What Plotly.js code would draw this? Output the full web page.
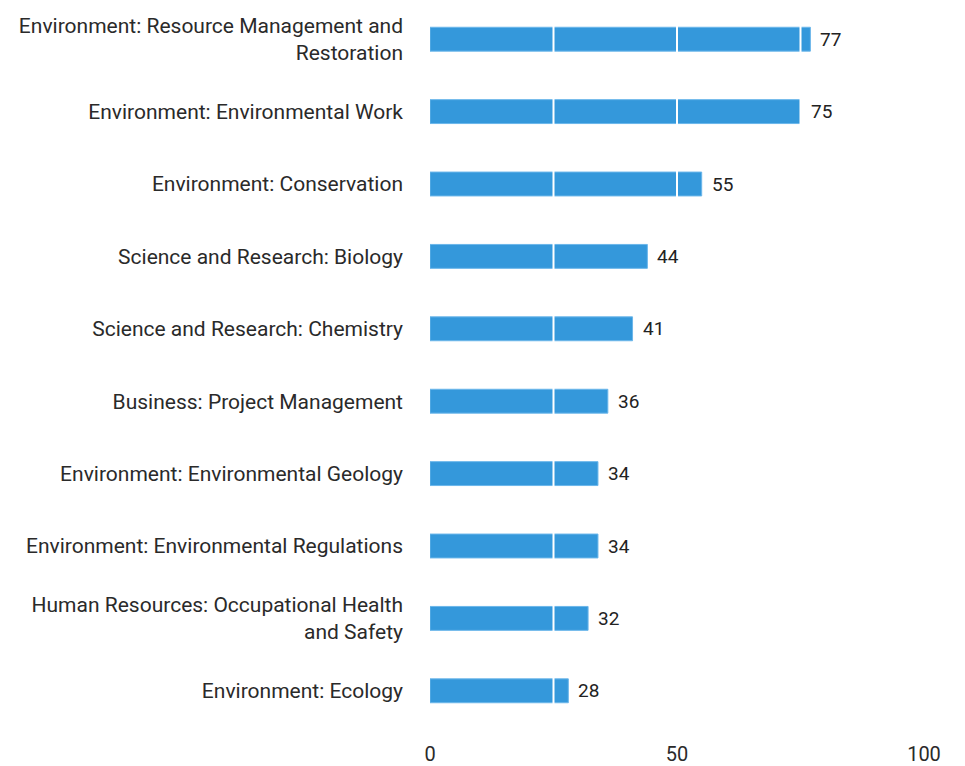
<!DOCTYPE html>
<html>
<head>
<meta charset="utf-8">
<script src="https://cdn.plot.ly/plotly-3.0.1.min.js"></script>
<style>html,body{margin:0;padding:0;background:#fff;}#chart{width:965px;height:766px;}</style>
</head>
<body>
<div id="chart"></div>
<script>
const categories = [
  "Environment: Resource Management and<br>Restoration",
  "Environment: Environmental Work",
  "Environment: Conservation",
  "Science and Research: Biology",
  "Science and Research: Chemistry",
  "Business: Project Management",
  "Environment: Environmental Geology",
  "Environment: Environmental Regulations",
  "Human Resources: Occupational Health<br>and Safety",
  "Environment: Ecology"
];
const values = [77, 75, 55, 44, 41, 36, 34, 34, 32, 28];
const xTicks = [0, 50, 100];
const gridVals = [25, 50, 75];

const trace = {
  type: 'bar',
  orientation: 'h',
  y: categories,
  x: values,
  marker: {color: '#3498db', line: {color: '#6bb6ea', width: 1}},
  hoverinfo: 'none'
};

const shapes = gridVals.map(v => ({
  type: 'line', xref: 'x', yref: 'paper', x0: v, x1: v, y0: 0, y1: 1,
  line: {color: '#ffffff', width: 2}, layer: 'above'
}));

const annotations = values.map((v, i) => ({
  x: v, y: categories[i], xref: 'x', yref: 'y',
  text: String(v), showarrow: false, xanchor: 'left', yanchor: 'middle',
  xshift: 8, font: {family: 'Roboto', size: 19, color: '#222'}
}));

const layout = {
  width: 965, height: 766,
  margin: {l: 430, r: 41, t: 3, b: 39},
  paper_bgcolor: '#fff', plot_bgcolor: '#fff',
  font: {family: 'Roboto', size: 21, color: '#2a2a2a'},
  bargap: 0.67,
  showlegend: false,
  shapes: shapes,
  annotations: annotations,
  xaxis: {
    range: [0, 100], tickvals: xTicks, ticktext: xTicks.map(String),
    showgrid: false, zeroline: false, showline: false, ticks: '',
    ticklabelstandoff: 13,
    tickfont: {family: 'Roboto', size: 20, color: '#2a2a2a'},
    fixedrange: true
  },
  yaxis: {
    autorange: 'reversed', showgrid: false, zeroline: false, showline: false, ticks: '',
    ticklabelstandoff: 26,
    tickfont: {family: 'Roboto', size: 21, color: '#2a2a2a'},
    fixedrange: true
  }
};

Plotly.newPlot('chart', [trace], layout, {displayModeBar: false, staticPlot: true});
</script>
</body>
</html>
